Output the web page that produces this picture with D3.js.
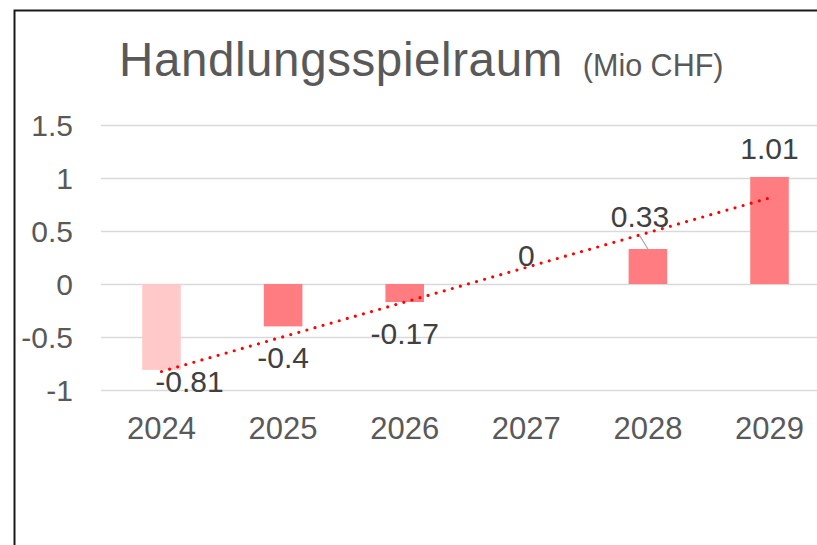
<!DOCTYPE html>
<html>
<head>
<meta charset="utf-8">
<script src="https://cdn.jsdelivr.net/npm/d3@7"></script>
<style>
  html, body { margin: 0; padding: 0; background: #fff; }
  svg { display: block; }
  text { font-family: "Liberation Sans", Arial, sans-serif; }
</style>
</head>
<body>
<svg id="chart" width="817" height="545"></svg>
<script>
// ---- data ----
const categories = ["2024", "2025", "2026", "2027", "2028", "2029"];
const values = [-0.81, -0.4, -0.17, 0, 0.33, 1.01];
const labels = ["-0.81", "-0.4", "-0.17", "0", "0.33", "1.01"];
const yTicks = [-1, -0.5, 0, 0.5, 1, 1.5];
const yTickLabels = ["-1", "-0.5", "0", "0.5", "1", "1.5"];
const titleMain = "Handlungsspielraum";
const titleSub = "(Mio CHF)";

// ---- layout / style (not data) ----
const barColors = ["#FFC9C9", "#FF7C80", "#FF7C80", "#FF7C80", "#FF7C80", "#FF7C80"];
// manual nudges of data labels (dx, dy) in px
const labelNudge = [[28, -20], [0, 0], [0, 0], [0, 0], [-8, -4], [0, 0]];

const svg = d3.select("#chart");
const W = 817, H = 545;

const x = d3.scaleBand().domain(categories).range([100.7, 830.3])
  .paddingInner(0.683).paddingOuter(0.3415);
const y = d3.scaleLinear().domain([-1, 1.5]).range([390, 125]);

// frame (left + top border)
svg.append("path")
  .attr("d", `M14.5,${H} L14.5,10.5 L${W},10.5`)
  .attr("fill", "none").attr("stroke", "#1a1a1a").attr("stroke-width", 2);

// title
const t = svg.append("text").attr("x", 119).attr("y", 76).attr("fill", "#595959");
t.append("tspan").attr("font-size", 47.5).attr("letter-spacing", 0.6).text(titleMain);
t.append("tspan").attr("font-size", 30.5).attr("dx", 20).text(titleSub);

// gridlines
const yAxisGrid = d3.axisLeft(y).tickValues(yTicks).tickSize(-(W - 101)).tickFormat("");
const gg = svg.append("g").attr("transform", "translate(101,0)").call(yAxisGrid);
gg.select(".domain").remove();
gg.selectAll("line").attr("stroke", "#D9D9D9").attr("stroke-width", 1.5);

// y tick labels
const yAxis = d3.axisLeft(y).tickValues(yTicks).tickSize(0).tickPadding(0)
  .tickFormat((d, i) => yTickLabels[i]);
const ya = svg.append("g").attr("transform", "translate(73,0)").call(yAxis);
ya.select(".domain").remove();
ya.selectAll("text").attr("font-size", 30).attr("fill", "#595959")
  .attr("font-family", "Liberation Sans, Arial, sans-serif").attr("dy", "0.36em");

// x tick labels
const xAxis = d3.axisBottom(x).tickSize(0).tickPadding(0);
const xa = svg.append("g").attr("transform", "translate(0,417)").call(xAxis);
xa.select(".domain").remove();
xa.selectAll("text").attr("font-size", 31).attr("fill", "#595959")
  .attr("font-family", "Liberation Sans, Arial, sans-serif").attr("dy", "0.72em");

// bars
svg.append("g").selectAll("rect").data(values).join("rect")
  .attr("x", (d, i) => x(categories[i]))
  .attr("width", x.bandwidth())
  .attr("y", d => y(Math.max(0, d)))
  .attr("height", d => Math.abs(y(d) - y(0)))
  .attr("fill", (d, i) => barColors[i]);

// linear trendline (least squares over category index)
const n = values.length;
const mx = d3.mean(d3.range(n)), my = d3.mean(values);
const slope = d3.sum(values, (v, i) => (i - mx) * (v - my)) / d3.sum(d3.range(n), i => (i - mx) ** 2);
const icpt = my - slope * mx;
const cx = i => x(categories[i]) + x.bandwidth() / 2;
svg.append("line")
  .attr("x1", cx(0)).attr("y1", y(icpt))
  .attr("x2", cx(n - 1)).attr("y2", y(icpt + slope * (n - 1)))
  .attr("stroke", "#FF0000").attr("stroke-width", 3.2)
  .attr("stroke-linecap", "round").attr("stroke-dasharray", "0 8.4");

// data labels
const lab = svg.append("g");
values.forEach((v, i) => {
  const bx = cx(i) + labelNudge[i][0];
  const by = (v >= 0 ? y(v) - 18 : y(v) + 42) + labelNudge[i][1];
  if (i === 4) {
    lab.append("line").attr("x1", cx(i) - 8).attr("y1", by + 9)
      .attr("x2", cx(i)).attr("y2", y(v)).attr("stroke", "#A6A6A6").attr("stroke-width", 1.2);
  }
  lab.append("text").attr("x", bx).attr("y", by).attr("text-anchor", "middle")
    .attr("font-size", 30).attr("fill", "#404040").text(labels[i]);
});
</script>
</body>
</html>
